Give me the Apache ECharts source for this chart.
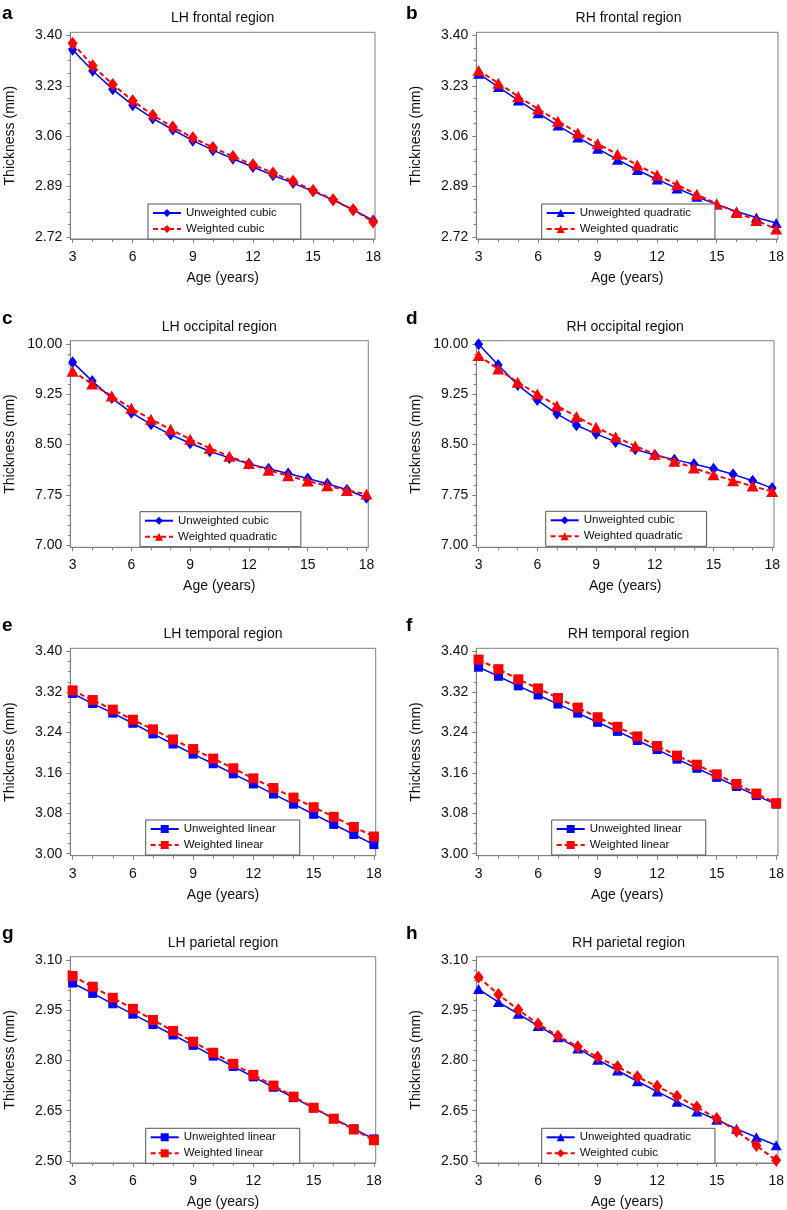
<!DOCTYPE html>
<html><head><meta charset="utf-8">
<script src="https://cdn.jsdelivr.net/npm/echarts@6/dist/echarts.min.js"></script>
<style>html,body{margin:0;padding:0;background:#fff}#chart{width:787px;height:1210px}</style>
</head><body><div id="chart"></div>
<script>
// ---------- data ----------
const ages = [3,4,5,6,7,8,9,10,11,12,13,14,15,16,17,18];
const xTicks = [3,6,9,12,15,18];

const yTicksFrontal = [2.72, 2.89, 3.06, 3.23, 3.40];
const yTicksOccipital = [7.00, 7.75, 8.50, 9.25, 10.00];
const yTicksTemporal = [3.00, 3.08, 3.16, 3.24, 3.32, 3.40];
const yTicksParietal = [2.50, 2.65, 2.80, 2.95, 3.10];

const lhFrontalUnweightedCubic = [3.352,3.281,3.219,3.165,3.120,3.082,3.045,3.013,2.984,2.956,2.928,2.902,2.874,2.845,2.812,2.776];
const lhFrontalWeightedCubic = [3.374,3.298,3.235,3.180,3.131,3.091,3.055,3.022,2.992,2.964,2.936,2.908,2.877,2.846,2.812,2.771];
const rhFrontalUnweightedQuadratic = [3.271,3.226,3.181,3.138,3.096,3.056,3.018,2.981,2.946,2.914,2.884,2.856,2.830,2.806,2.786,2.767];
const rhFrontalWeightedQuadratic = [3.282,3.239,3.194,3.152,3.111,3.071,3.035,2.999,2.963,2.929,2.896,2.864,2.832,2.803,2.776,2.747];
const lhOccipitalUnweightedCubic = [9.728,9.446,9.193,8.975,8.802,8.649,8.520,8.401,8.302,8.213,8.139,8.069,7.995,7.916,7.827,7.708];
const lhOccipitalWeightedQuadratic = [9.594,9.401,9.223,9.040,8.876,8.728,8.579,8.446,8.327,8.218,8.119,8.035,7.956,7.886,7.817,7.763];
const rhOccipitalUnweightedCubic = [9.995,9.686,9.387,9.163,8.959,8.789,8.660,8.540,8.430,8.346,8.276,8.211,8.141,8.057,7.962,7.852];
const rhOccipitalWeightedQuadratic = [9.826,9.626,9.427,9.253,9.078,8.919,8.759,8.615,8.480,8.356,8.251,8.151,8.052,7.962,7.882,7.802];
const lhTemporalUnweightedLinear = [3.317,3.297,3.278,3.258,3.237,3.217,3.197,3.178,3.158,3.138,3.118,3.098,3.078,3.058,3.038,3.018];
const lhTemporalWeightedLinear = [3.323,3.304,3.285,3.265,3.246,3.226,3.207,3.188,3.169,3.149,3.130,3.111,3.092,3.073,3.053,3.034];
const rhTemporalUnweightedLinear = [3.369,3.351,3.332,3.314,3.296,3.278,3.260,3.242,3.224,3.206,3.187,3.169,3.151,3.133,3.115,3.098];
const rhTemporalWeightedLinear = [3.384,3.365,3.345,3.327,3.308,3.289,3.270,3.251,3.232,3.213,3.194,3.176,3.157,3.138,3.119,3.100];
const lhParietalUnweightedLinear = [3.031,3.000,2.969,2.938,2.907,2.876,2.845,2.813,2.782,2.751,2.720,2.689,2.658,2.627,2.596,2.566];
const lhParietalWeightedLinear = [3.052,3.020,2.987,2.954,2.921,2.888,2.856,2.823,2.790,2.757,2.725,2.692,2.659,2.626,2.594,2.562];
const rhParietalUnweightedQuadratic = [3.013,2.974,2.939,2.903,2.869,2.836,2.802,2.770,2.738,2.707,2.677,2.648,2.623,2.596,2.571,2.547];
const rhParietalWeightedCubic = [3.048,2.997,2.951,2.909,2.873,2.841,2.810,2.781,2.751,2.723,2.693,2.661,2.627,2.589,2.546,2.502];

const panelLetters = ['a','b','c','d','e','f','g','h'];
const panelTitles = ['LH frontal region','RH frontal region','LH occipital region','RH occipital region','LH temporal region','RH temporal region','LH parietal region','RH parietal region'];
const xAxisName = 'Age (years)';
const yAxisName = 'Thickness (mm)';

const panels = [
  {yTicks: yTicksFrontal,   minorSplit: 4, blueName: 'Unweighted cubic',     blue: lhFrontalUnweightedCubic,     redName: 'Weighted cubic',     red: lhFrontalWeightedCubic},
  {yTicks: yTicksFrontal,   minorSplit: 4, blueName: 'Unweighted quadratic', blue: rhFrontalUnweightedQuadratic, redName: 'Weighted quadratic', red: rhFrontalWeightedQuadratic},
  {yTicks: yTicksOccipital, minorSplit: 5, blueName: 'Unweighted cubic',     blue: lhOccipitalUnweightedCubic,   redName: 'Weighted quadratic', red: lhOccipitalWeightedQuadratic},
  {yTicks: yTicksOccipital, minorSplit: 5, blueName: 'Unweighted cubic',     blue: rhOccipitalUnweightedCubic,   redName: 'Weighted quadratic', red: rhOccipitalWeightedQuadratic},
  {yTicks: yTicksTemporal,  minorSplit: 4, blueName: 'Unweighted linear',    blue: lhTemporalUnweightedLinear,   redName: 'Weighted linear',    red: lhTemporalWeightedLinear},
  {yTicks: yTicksTemporal,  minorSplit: 4, blueName: 'Unweighted linear',    blue: rhTemporalUnweightedLinear,   redName: 'Weighted linear',    red: rhTemporalWeightedLinear},
  {yTicks: yTicksParietal,  minorSplit: 5, blueName: 'Unweighted linear',    blue: lhParietalUnweightedLinear,   redName: 'Weighted linear',    red: lhParietalWeightedLinear},
  {yTicks: yTicksParietal,  minorSplit: 5, blueName: 'Unweighted quadratic', blue: rhParietalUnweightedQuadratic,redName: 'Weighted cubic',     red: rhParietalWeightedCubic}
];

// ---------- layout ----------
const frames = [
  [70.3, 32.3, 375, 239], [476.3, 32.3, 780.7, 239],
  [70.3, 340.7, 368.3, 547.3], [476.3, 340.7, 774, 547.3],
  [70.3, 648.3, 375.7, 855.7], [476.3, 648.3, 780.7, 855.7],
  [70.3, 956.7, 375.7, 1164], [476.3, 956.7, 780.7, 1164]
];
const pad = {l: 2.3, r: 1.8, t: 3.2, b: 2};
const legendPos = [[148,204],[541.7,204],[140,511.7],[545.7,511.3],[145.7,820],[551.7,820],[145.7,1128.3],[541.7,1128.3]];
const letterRowY = [13, 318, 625, 933];
const FONT = 'Liberation Sans, Arial, Helvetica, sans-serif';
const AX = '#808080';
const BLUE = '#0000ff', RED = '#ff0000';

function symbolFor(name, isRed) {
  if (name.indexOf('cubic') >= 0) return {symbol: 'diamond', size: isRed ? [10, 13] : [9, 12]};
  if (name.indexOf('quadratic') >= 0) return {symbol: 'triangle', size: isRed ? [12, 11] : [11, 10]};
  return {symbol: 'rect', size: isRed ? 10 : 9};
}

const grid = [], xAxis = [], yAxis = [], series = [], legend = [], title = [];

panels.forEach((p, i) => {
  const [L, T, R, B] = frames[i];
  const w = R - L, h = B - T;
  grid.push({left: L, top: T, width: w, height: h, show: true, borderColor: AX, borderWidth: 1, backgroundColor: 'transparent'});

  const xu = (ages[ages.length-1] - ages[0]) / (w - pad.l - pad.r);
  const xmin = xTicks[0] - pad.l * xu, xmax = xTicks[xTicks.length-1] + pad.r * xu;
  const t0 = p.yTicks[0], t1 = p.yTicks[p.yTicks.length-1];
  const yu = (t1 - t0) / (h - pad.t - pad.b);
  const ymin = t0 - pad.b * yu, ymax = t1 + pad.t * yu;

  const minorY = [];
  for (let k = 0; k < p.yTicks.length - 1; k++) {
    const a = p.yTicks[k], b = p.yTicks[k+1];
    for (let s = 1; s < p.minorSplit; s++) minorY.push(a + (b - a) * s / p.minorSplit);
  }

  xAxis.push({
    type: 'value', gridIndex: i, min: xmin, max: xmax, position: 'bottom',
    axisLine: {show: true, lineStyle: {color: AX, width: 1}},
    axisTick: {show: true, customValues: xTicks, length: 4, lineStyle: {color: AX}},
    axisLabel: {customValues: xTicks, fontSize: 14, color: '#111', fontFamily: FONT, margin: 11},
    splitLine: {show: false},
    name: xAxisName, nameLocation: 'middle', nameGap: 32,
    nameTextStyle: {fontSize: 14, color: '#111', fontFamily: FONT}
  });
  xAxis.push({
    type: 'value', gridIndex: i, min: xmin, max: xmax, position: 'bottom',
    axisLine: {show: false},
    axisTick: {show: true, customValues: ages, length: 3, lineStyle: {color: AX}},
    axisLabel: {show: false}, splitLine: {show: false}
  });
  yAxis.push({
    type: 'value', gridIndex: i, min: ymin, max: ymax, position: 'left',
    axisLine: {show: true, lineStyle: {color: AX, width: 1}},
    axisTick: {show: true, customValues: p.yTicks, length: 4, lineStyle: {color: AX}},
    axisLabel: {customValues: p.yTicks, fontSize: 14, color: '#111', fontFamily: FONT, margin: 8,
      formatter: v => Number(v).toFixed(2)},
    splitLine: {show: false},
    name: yAxisName, nameLocation: 'middle', nameGap: 53, nameRotate: 90,
    nameTextStyle: {fontSize: 14, color: '#111', fontFamily: FONT}
  });
  yAxis.push({
    type: 'value', gridIndex: i, min: ymin, max: ymax, position: 'left',
    axisLine: {show: false},
    axisTick: {show: true, customValues: minorY, length: 2.5, lineStyle: {color: AX}},
    axisLabel: {show: false}, splitLine: {show: false}
  });

  const bs = symbolFor(p.blueName, false), rs = symbolFor(p.redName, true);
  series.push({
    type: 'line', name: p.blueName, xAxisIndex: 2*i, yAxisIndex: 2*i,
    data: ages.map((a, k) => [a, p.blue[k]]),
    symbol: bs.symbol, symbolSize: bs.size, showSymbol: true,
    lineStyle: {color: BLUE, width: 1.5, type: 'solid'},
    itemStyle: {color: BLUE, borderWidth: 0},
    emphasis: {disabled: true}, z: 2
  });
  series.push({
    type: 'line', name: p.redName, xAxisIndex: 2*i, yAxisIndex: 2*i,
    data: ages.map((a, k) => [a, p.red[k]]),
    symbol: rs.symbol, symbolSize: rs.size, showSymbol: true,
    lineStyle: {color: RED, width: 2, type: [5, 3]},
    itemStyle: {color: RED, borderWidth: 0},
    emphasis: {disabled: true}, z: 3
  });

  legend.push({
    left: legendPos[i][0], top: legendPos[i][1], orient: 'vertical',
    data: [p.blueName, p.redName], selectedMode: false,
    itemWidth: 28, itemHeight: 10, itemGap: 4,
    padding: [3, 24, 4, 4], borderColor: '#555', borderWidth: 1, backgroundColor: '#fff',
    textStyle: {fontSize: 11.5, color: '#111', fontFamily: FONT}
  });

  title.push({
    text: panelTitles[i], left: (L + R) / 2, top: T - 15 - 6, textAlign: 'center', padding: 0,
    textStyle: {fontSize: 14, fontWeight: 'normal', color: '#111', fontFamily: FONT}
  });
  title.push({
    text: panelLetters[i], left: (i % 2 === 0) ? 2 : 406, top: letterRowY[Math.floor(i/2)] - 9, padding: 0,
    textStyle: {fontSize: 19, fontWeight: 'bold', color: '#000', fontFamily: FONT}
  });
});

const chart = echarts.init(document.getElementById('chart'), null, {renderer: 'canvas'});
chart.setOption({animation: false, backgroundColor: '#fff', title, grid, xAxis, yAxis, legend, series, tooltip: {show: false}});
</script></body></html>
